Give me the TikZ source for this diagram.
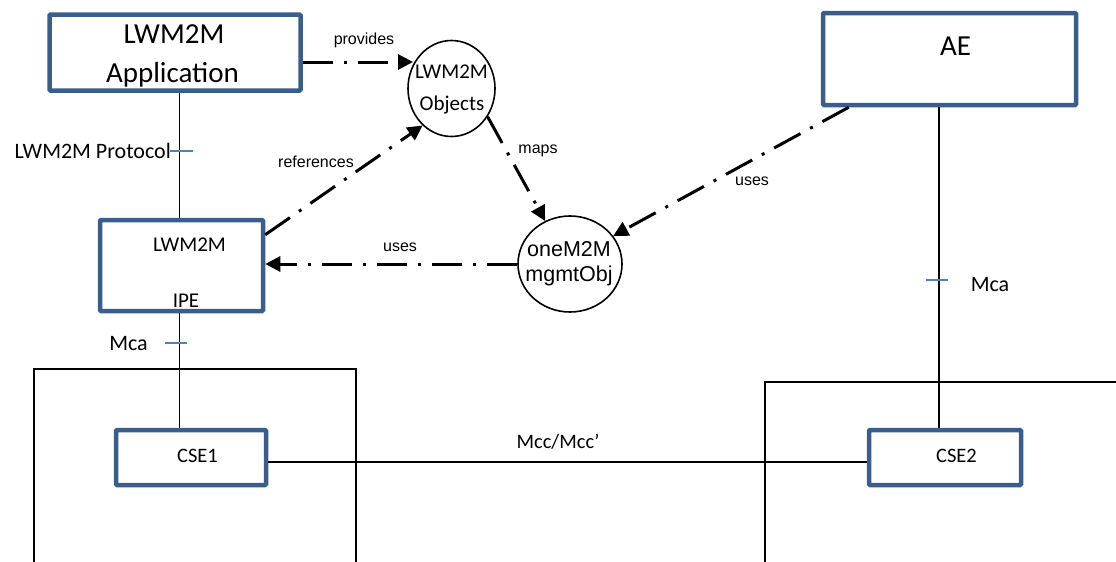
\documentclass[tikz,border=0pt]{standalone}
\usepackage{fontspec}
\setmainfont{Carlito}
\newfontfamily\arialf{Liberation Sans}
\usetikzlibrary{arrows.meta,shapes.geometric,calc}
\definecolor{boxblue}{RGB}{58,94,140}
\definecolor{tickblue}{RGB}{79,129,189}
\begin{document}
\begin{tikzpicture}[x=1pt,y=-1pt,
  bbox/.style={draw=boxblue, line width=4.5pt, rounded corners=1pt, inner sep=0pt, fill=white},
  circ/.style={draw, ellipse, line width=1.6pt, inner sep=0pt},
  dd/.style={line width=3pt, dash pattern=on 30pt off 11pt on 3pt off 11pt, -{Triangle[length=15pt,width=15pt]}},
  plain/.style={line width=1.8pt},
  tick/.style={draw=tickblue, line width=1.3pt},
  lbl/.style={font=\arialf\fontsize{16}{18}\selectfont, inner sep=0pt},
  txt/.style={inner sep=0pt, anchor=base}]
\useasboundingbox (0,0) rectangle (1116,562);

% outer frames
\draw[plain] (34,570) -- (34,369) -- (356,369) -- (356,570);
\draw[plain] (765,570) -- (765,382) -- (1120,382);

% boxes
\node[bbox, minimum width=251pt, minimum height=76pt] (app) at (175,52.5) {};
\node[txt, font=\fontsize{29}{34}\selectfont] (apptxt1) at (174,43) {LWM2M};
\node[txt, font=\fontsize{29}{34}\selectfont] (apptxt2) at (172.5,82) {Application};
\node[bbox, minimum width=253pt, minimum height=92pt] (ae) at (949.5,59) {};
\node[txt, font=\fontsize{29}{34}\selectfont] (aetxt) at (955.5,55) {AE};
\node[bbox, minimum width=163pt, minimum height=91pt] (ipe) at (181.5,265.5) {};
\node[txt, font=\fontsize{21}{24}\selectfont] (ipe1) at (189.5,251) {LWM2M};
\node[txt, font=\fontsize{21}{24}\selectfont] (ipe2) at (186,307) {IPE};
\node[bbox, minimum width=150pt, minimum height=55pt] (cse1) at (191,457.5) {};
\node[txt, font=\fontsize{20.5}{24}\selectfont] (cse1t) at (197.5,462.5) {CSE1};
\node[bbox, minimum width=152pt, minimum height=55pt] (cse2) at (945,457.5) {};
\node[txt, font=\fontsize{20.5}{24}\selectfont] (cse2t) at (956.5,462) {CSE2};

% circles
\node[circ, minimum width=87pt, minimum height=96pt] (obj) at (451.5,88.5) {};
\node[txt, font=\fontsize{21}{24}\selectfont] (objt1) at (451.5,78) {LWM2M};
\node[txt, font=\fontsize{21}{24}\selectfont] (objt2) at (452,110) {Objects};
\node[circ, minimum width=104pt, minimum height=96pt] (one) at (570,264) {};
\node[txt, font=\arialf\fontsize{21.5}{24}\selectfont] (onet1) at (569,256) {oneM2M};
\node[txt, font=\arialf\fontsize{21.5}{24}\selectfont] (onet2) at (569,281) {mgmtObj};

% solid connectors
\coordinate (l1) at (179.5,0);
\coordinate (l2) at (939,0);
\draw[plain] (app.south -| l1) -- (ipe.north -| l1);
\draw[plain] (ipe.south -| l1) -- (cse1.north -| l1);
\draw[plain] (ae.south -| l2) -- (cse2.north -| l2);
\draw[plain] ([yshift=-4.5pt]cse1.east) -- ([yshift=-4.5pt]cse2.west);

% ticks and interface labels
\draw[tick] (170,151) -- (193,151);
\node[txt, anchor=base east, font=\fontsize{22}{24}\selectfont] (lp) at (171,158) {LWM2M Protocol};
\draw[tick] (165,343) -- (187,343);
\node[txt, font=\fontsize{22}{24}\selectfont] (mca1) at (128.5,350) {Mca};
\draw[tick] (926,280) -- (948,280);
\node[txt, font=\fontsize{22}{24}\selectfont] (mca2) at (990,291) {Mca};
\node[txt, font=\fontsize{20.5}{24}\selectfont] (mcc) at (558,448) {Mcc/Mcc’};

% dash-dot arrows
\coordinate (provtip) at (413,62);
\draw[dd] ([yshift=-9.5pt]app.east) -- (provtip);
\draw[dd] ($(ipe.north east)+(0,17)$) -- (obj.232);
\draw[dd] (obj.-38) -- (one.120);
\draw[dd] ([xshift=28pt]ae.south west) -- (one.33);
\draw[dd] (one.west) -- (one.west -| ipe.east);

% arrow labels
\node[lbl] (l_prov) at (364,40) {provides};
\node[lbl] (l_ref) at (316,162) {references};
\node[lbl] (l_maps) at (538,151) {maps};
\node[lbl] (l_use1) at (752,181) {uses};
\node[lbl] (l_use2) at (400,247) {uses};
\end{tikzpicture}
\end{document}
